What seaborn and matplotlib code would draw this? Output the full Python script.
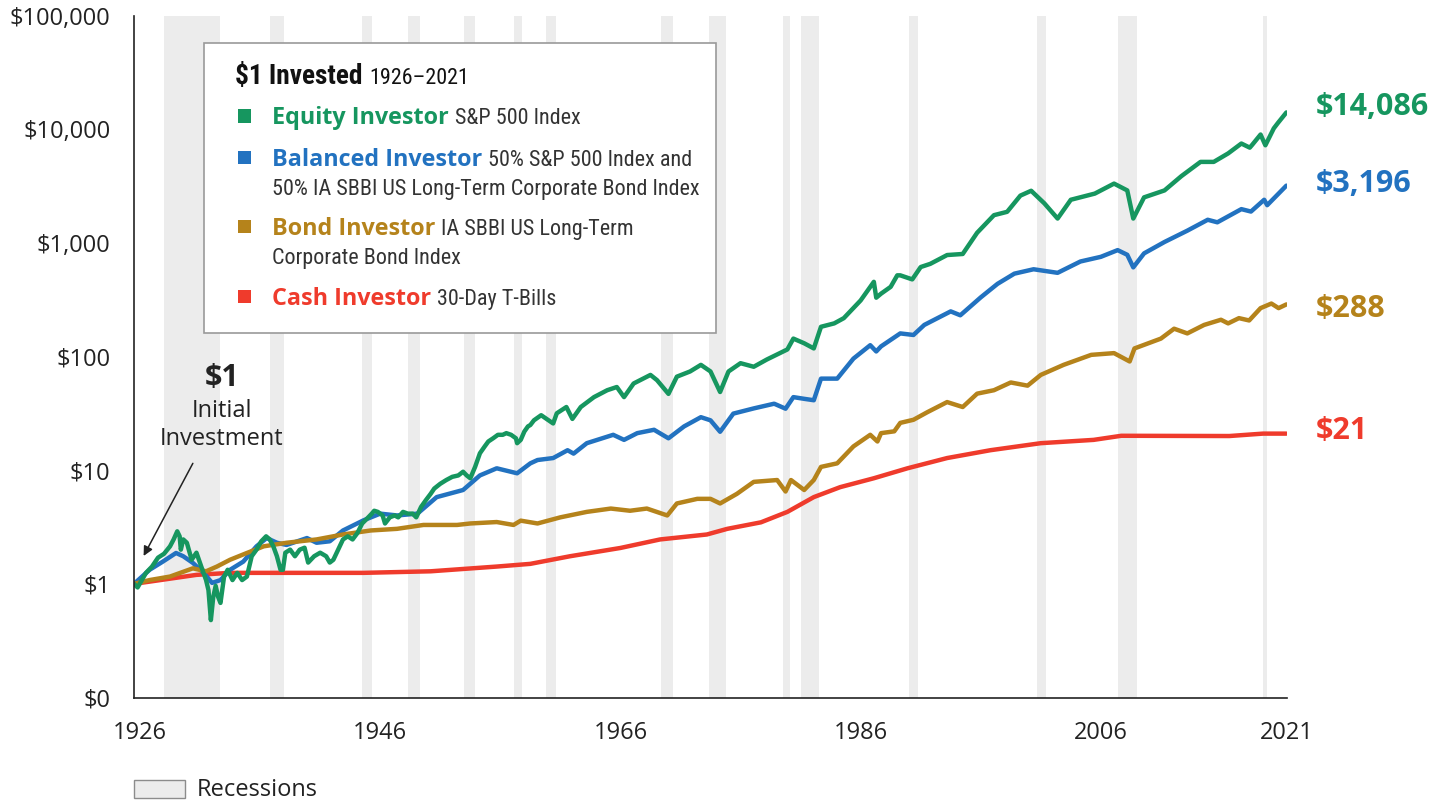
import numpy as np
import pandas as pd
import matplotlib
matplotlib.use('Agg')
import matplotlib.pyplot as plt
from matplotlib import font_manager as fm
from matplotlib.patches import Rectangle
from matplotlib.ticker import NullLocator
import seaborn as sns

# growth of $1 (year, dollars)
equity_years = [1926.0, 1926.3, 1927.0, 1927.5, 1928.0, 1928.5, 1929.0, 1929.3, 1929.6, 1929.8,
                1929.9, 1930.1, 1930.4, 1930.8, 1931.2, 1931.6, 1932.0, 1932.2, 1932.4, 1932.6,
                1932.8, 1933.0, 1933.2, 1933.5, 1933.8, 1934.2, 1934.6, 1935.0, 1935.4, 1935.8,
                1936.2, 1936.6, 1937.0, 1937.3, 1937.6, 1937.9, 1938.2, 1938.4, 1938.6, 1939.0,
                1939.4, 1939.8, 1940.2, 1940.5, 1941.0, 1941.5, 1942.0, 1942.3, 1942.6, 1943.0,
                1943.4, 1943.8, 1944.2, 1944.6, 1945.0, 1945.4, 1945.8, 1946.0, 1946.3, 1946.7,
                1946.9, 1947.3, 1947.7, 1948.0, 1948.4, 1948.8, 1949.2, 1949.5, 1949.9, 1950.3,
                1950.7, 1951.0, 1951.5, 1952.0, 1952.5, 1953.0, 1953.4, 1953.7, 1954.0, 1954.4,
                1954.8, 1955.2, 1955.5, 1955.9, 1956.3, 1956.7, 1957.0, 1957.4, 1957.8, 1957.9,
                1958.2, 1958.5, 1958.8, 1959.0, 1959.3, 1959.9, 1960.9, 1961.2, 1962.0, 1962.5,
                1963.2, 1964.3, 1965.4, 1966.2, 1966.8, 1967.6, 1969.0, 1969.55, 1970.5, 1971.2,
                1972.3, 1973.2, 1974.0, 1974.8, 1975.5, 1976.5, 1977.6, 1978.7, 1980.4, 1980.9,
                1981.8, 1982.6, 1983.2, 1984.3, 1985.1, 1986.5, 1987.6, 1987.8, 1988.2, 1989.0,
                1989.55, 1989.8, 1990.8, 1991.5, 1992.3, 1993.7, 1995.0, 1996.2, 1997.6, 1998.7,
                1999.8, 2000.7, 2001.8, 2002.9, 2004.0, 2006.0, 2007.6, 2008.7, 2009.2, 2010.1,
                2011.8, 2013.2, 2014.8, 2015.9, 2017.1, 2018.2, 2018.9, 2019.1, 2019.8, 2020.2,
                2020.9, 2021.25, 2021.95]
equity_values = [1.00, 0.93, 1.25, 1.42, 1.70, 1.84, 2.14, 2.46, 2.90, 2.62,
                 2.00, 2.46, 2.30, 1.63, 1.88, 1.42, 1.08, 0.88, 0.48, 0.77,
                 0.96, 0.77, 0.68, 1.16, 1.33, 1.08, 1.25, 1.08, 1.16, 1.75,
                 2.00, 2.37, 2.62, 2.46, 2.14, 1.75, 1.33, 1.33, 1.88, 2.00,
                 1.75, 2.00, 2.08, 1.54, 1.75, 1.88, 1.75, 1.54, 1.63, 2.00,
                 2.46, 2.62, 2.46, 2.80, 3.40, 3.75, 4.15, 4.40, 4.30, 4.00,
                 3.40, 3.85, 4.00, 3.85, 4.30, 4.15, 4.15, 3.85, 4.75, 5.45,
                 6.2, 6.9, 7.6, 8.2, 8.75, 9.0, 9.7, 9.0, 8.5, 10.7,
                 14.1, 16.2, 17.9, 19.1, 20.5, 20.5, 21.2, 20.5, 19.1, 17.3,
                 18.5, 21.9, 24.3, 25.0, 27.5, 30.5, 25.8, 31.7, 36.0, 28.3,
                 36.0, 44.0, 50.6, 54.0, 44.0, 58.0, 69.0, 62.0, 47.0, 66.6,
                 74.0, 84.6, 74.0, 48.8, 74.0, 87.5, 81.4, 94.4, 115.6, 144.0,
                 131.0, 118.0, 183.0, 196.0, 218.0, 312.0, 455.0, 330.0, 358.0, 411.0,
                 519.0, 519.0, 478.0, 614.0, 655.0, 783.0, 800.0, 1230.0, 1756.0, 1880.0,
                 2610.0, 2880.0, 2230.0, 1640.0, 2400.0, 2720.0, 3330.0, 2900.0, 1640.0, 2520.0,
                 2900.0, 3870.0, 5170.0, 5170.0, 6140.0, 7500.0, 6900.0, 7300.0, 9000.0, 7240.0,
                 10200.0, 11400.0, 14086.0]

balanced_years = [1926.0, 1927.3, 1928.4, 1929.5, 1930.1, 1930.9, 1931.8, 1932.5, 1933.2, 1934.0,
                  1935.1, 1936.2, 1937.05, 1937.9, 1938.7, 1940.4, 1941.2, 1942.3, 1943.4, 1945.1,
                  1946.5, 1947.9, 1949.6, 1951.2, 1953.4, 1954.8, 1956.2, 1957.9, 1959.0, 1959.6,
                  1960.9, 1962.1, 1962.6, 1963.7, 1965.9, 1966.8, 1967.9, 1969.3, 1970.5, 1971.8,
                  1973.2, 1974.0, 1974.8, 1975.9, 1977.6, 1979.3, 1980.25, 1980.9, 1981.8, 1982.6,
                  1983.2, 1984.55, 1985.9, 1987.3, 1987.8, 1988.2, 1989.8, 1990.9, 1991.8, 1994.0,
                  1994.8, 1996.5, 1997.9, 1999.3, 2000.9, 2002.9, 2004.8, 2006.5, 2007.9, 2008.7,
                  2009.2, 2010.1, 2011.8, 2013.7, 2015.4, 2016.2, 2018.2, 2019.0, 2020.1, 2020.35,
                  2021.95]
balanced_values = [1.00, 1.33, 1.57, 1.87, 1.75, 1.53, 1.25, 1.02, 1.08, 1.33,
                   1.57, 2.14, 2.53, 2.30, 2.20, 2.53, 2.30, 2.37, 2.95, 3.62,
                   4.15, 4.00, 4.15, 5.8, 6.7, 9.0, 10.4, 9.4, 11.5, 12.3,
                   12.8, 15.0, 14.0, 17.3, 20.5, 18.5, 21.2, 22.7, 19.1, 24.3,
                   29.3, 27.5, 21.8, 31.5, 35.0, 38.5, 34.8, 44.0, 42.5, 41.3,
                   64.0, 64.0, 96.0, 126.0, 111.0, 123.0, 160.0, 155.0, 190.0, 250.0,
                   231.0, 332.0, 437.0, 537.0, 587.0, 546.0, 687.0, 755.0, 865.0, 787.0,
                   610.0, 810.0, 1020.0, 1283.0, 1600.0, 1520.0, 1985.0, 1890.0, 2400.0, 2150.0,
                   3196.0]

bond_years = [1926.0, 1927.3, 1929.0, 1930.9, 1932.0, 1932.9, 1934.0, 1935.4, 1936.8, 1938.7,
              1941.2, 1943.4, 1945.7, 1947.9, 1950.1, 1952.9, 1954.0, 1956.2, 1957.6, 1958.2,
              1959.6, 1961.5, 1963.7, 1965.7, 1967.3, 1968.7, 1970.4, 1971.2, 1972.9, 1974.0,
              1974.8, 1976.2, 1977.6, 1979.55, 1980.25, 1980.7, 1981.8, 1982.6, 1983.2, 1984.55,
              1985.9, 1987.3, 1987.9, 1988.2, 1989.3, 1989.8, 1990.9, 1992.05, 1993.7, 1995.0,
              1996.2, 1997.6, 1999.0, 2000.4, 2001.5, 2003.4, 2005.7, 2007.6, 2008.9, 2009.3,
              2011.5, 2012.6, 2013.7, 2015.1, 2016.5, 2017.1, 2018.0, 2018.85, 2019.8, 2020.7,
              2021.3, 2021.95]
bond_values = [1.00, 1.08, 1.16, 1.37, 1.29, 1.42, 1.63, 1.87, 2.14, 2.30,
               2.46, 2.72, 2.95, 3.05, 3.30, 3.30, 3.40, 3.50, 3.30, 3.60,
               3.40, 3.85, 4.30, 4.60, 4.40, 4.60, 4.00, 5.10, 5.60, 5.60,
               5.10, 6.20, 7.90, 8.20, 6.50, 8.20, 6.70, 8.20, 10.7, 11.5,
               16.2, 20.5, 17.9, 21.2, 22.0, 26.1, 27.8, 32.4, 39.8, 36.0,
               47.2, 50.6, 59.2, 55.5, 69.0, 84.6, 103.6, 107.3, 90.6, 118.0,
               144.0, 176.0, 160.0, 190.0, 211.0, 196.0, 218.0, 208.0, 267.0, 293.0,
               267.0, 288.0]

cash_years = [1926.0, 1931.2, 1934.0, 1945.1, 1950.7, 1956.2, 1959.0, 1962.3, 1966.5, 1969.8,
              1973.7, 1975.4, 1978.2, 1980.4, 1982.6, 1984.8, 1987.6, 1990.4, 1993.7, 1997.3,
              2001.5, 2005.9, 2008.2, 2017.2, 2020.0, 2021.95]
cash_values = [1.00, 1.20, 1.25, 1.25, 1.29, 1.42, 1.50, 1.75, 2.07, 2.46,
               2.72, 3.05, 3.48, 4.30, 5.80, 7.10, 8.50, 10.4, 12.8, 15.0,
               17.3, 18.5, 20.1, 20.0, 21.0, 21.0]

recessions = [(1928.5, 1933.2), (1937.3, 1938.5), (1945.0, 1945.8), (1948.8, 1949.8),
              (1953.5, 1954.4), (1957.6, 1958.3), (1960.3, 1961.1), (1969.9, 1970.9),
              (1973.9, 1975.3), (1980.0, 1980.6), (1981.5, 1983.0), (1990.5, 1991.3),
              (2001.2, 2001.9), (2007.9, 2009.5), (2020.0, 2020.3)]

tick_years = [1926, 1946, 1966, 1986, 2006, 2021]
dollar_ticks = [0.1, 1, 10, 100, 1000, 10000, 100000]
dollar_labels = ['$0', '$1', '$10', '$100', '$1,000', '$10,000', '$100,000']

names = ['Cash Investor', 'Balanced Investor', 'Bond Investor', 'Equity Investor']
colors = {'Equity Investor': '#16965f', 'Balanced Investor': '#2272c0',
          'Bond Investor': '#b5831b', 'Cash Investor': '#ef3b2c'}
end_labels = {'Equity Investor': '$14,086', 'Balanced Investor': '$3,196',
              'Bond Investor': '$288', 'Cash Investor': '$21'}
legend_rows = [('Equity Investor', 'S&P 500 Index', None),
               ('Balanced Investor', '50% S&P 500 Index and',
                '50% IA SBBI US Long-Term Corporate Bond Index'),
               ('Bond Investor', 'IA SBBI US Long-Term', 'Corporate Bond Index'),
               ('Cash Investor', '30-Day T-Bills', None)]

series = {'Equity Investor': (equity_years, equity_values),
          'Balanced Investor': (balanced_years, balanced_values),
          'Bond Investor': (bond_years, bond_values),
          'Cash Investor': (cash_years, cash_values)}
df = pd.concat([pd.DataFrame({'year': yrs, 'value': vals, 'investor': name})
                for name, (yrs, vals) in series.items()], ignore_index=True)


def have_font(fam):
    try:
        fm.findfont(fm.FontProperties(family=fam), fallback_to_default=False)
        return True
    except ValueError:
        return False


sns.set_theme(style='white')
plt.rcParams['font.family'] = ['Open Sans', 'DejaVu Sans']
plt.rcParams['text.parse_math'] = False

# condensed face for the legend descriptions; shrink a wide face if none exists
narrow, squeeze = ['Roboto', 'DejaVu Sans'], 0.82
for fam in ['Roboto Condensed', 'Liberation Sans Narrow', 'DejaVu Sans Condensed']:
    if have_font(fam):
        narrow, squeeze = [fam, 'DejaVu Sans'], 0.94
        break
dark = '#222222'

W, H = 1451, 801
fig = plt.figure(figsize=(W / 100, H / 100), dpi=100)
ax = fig.add_axes([134 / W, 1 - 697.5 / H, 1153 / W, 681.8 / H])

for start, end in recessions:
    ax.axvspan(start, end, color='#ececec', lw=0, zorder=0)

sns.lineplot(data=df, x='year', y='value', hue='investor', hue_order=names,
             palette=colors, linewidth=3.2, legend=False, estimator=None, ax=ax,
             solid_joinstyle='round', solid_capstyle='round')

ax.set_yscale('log')
ax.set_ylim(0.1, 1e5)
ax.set_xlim(1926, 2022)
ax.yaxis.set_minor_locator(NullLocator())
ax.set_yticks(dollar_ticks)
ax.set_yticklabels(dollar_labels)
ax.set_xticks([y + 0.5 for y in tick_years[:-1]] + [tick_years[-1] + 1])
ax.set_xticklabels([str(y) for y in tick_years])
ax.tick_params(length=0, pad=17, labelsize=17, colors=dark)
ax.set_xlabel('')
ax.set_ylabel('')
for side in ['top', 'right']:
    ax.spines[side].set_visible(False)
for side in ['left', 'bottom']:
    ax.spines[side].set_color(dark)
    ax.spines[side].set_linewidth(1.2)
ax.set_facecolor('white')

# end-of-period values, nudged (in points) to sit beside the line ends
nudge = {'Equity Investor': 4, 'Balanced Investor': 1, 'Bond Investor': -3, 'Cash Investor': 2}
for name in names:
    yrs, vals = series[name]
    ax.annotate(end_labels[name], xy=(2024.4, vals[-1]), xytext=(0, nudge[name]),
                textcoords='offset points', color=colors[name], fontsize=22,
                fontweight='bold', va='center', ha='left', annotation_clip=False)

# $1 initial investment callout
ax.text(1933.3, 65, '$1', fontsize=22, fontweight='bold', color=dark, ha='center', va='center')
ax.text(1933.3, 33, 'Initial', fontsize=17, color=dark, ha='center', va='center')
ax.text(1933.3, 18.8, 'Investment', fontsize=17, color=dark, ha='center', va='center')
ax.annotate('', xy=(1926.8, 1.76), xytext=(1930.9, 11.5),
            arrowprops=dict(arrowstyle='-|>', color=dark, lw=1.1, mutation_scale=14,
                            shrinkA=0, shrinkB=0))

# legend box
fig.add_artist(Rectangle((204 / W, 1 - 333 / H), 512 / W, 290 / H, transform=fig.transFigure,
                         facecolor='white', edgecolor='#9a9a9a', lw=1.2, zorder=5))
renderer = fig.canvas.get_renderer()


def after(t, text, gap, **kw):
    bb = t.get_window_extent(renderer)
    x0, y0 = t.get_position()
    return fig.text(bb.x1 / W + gap / W, y0, text, va='baseline', zorder=6, **kw)


title = fig.text(235 / W, 1 - 84 / H, '$1 Invested', family=narrow, fontsize=21 * squeeze,
                 fontweight='bold', color='#111111', va='baseline', zorder=6)
after(title, '1926\u20132021', 7, family=narrow, fontsize=17 * squeeze, color='#111111')

baselines = [(124, 116), (166, 157.5), (235, 226.7), (305, 296.7)]
for (name, desc, second), (base, sq) in zip(legend_rows, baselines):
    fig.add_artist(Rectangle((237.5 / W, 1 - (sq + 6.5) / H), 13 / W, 13 / H,
                             transform=fig.transFigure, facecolor=colors[name], lw=0, zorder=6))
    t = fig.text(272 / W, 1 - base / H, name, fontsize=16.8, fontweight='bold',
                 color=colors[name], va='baseline', zorder=6)
    after(t, desc, 6, family=narrow, fontsize=17 * squeeze, color='#333333')
    if second:
        fig.text(272 / W, 1 - (base + 29) / H, second, family=narrow, fontsize=17 * squeeze,
                 color='#333333', va='baseline', zorder=6)

# recessions key
fig.add_artist(Rectangle((134 / W, 1 - 798 / H), 51 / W, 18 / H, transform=fig.transFigure,
                         facecolor='#ececec', edgecolor='#8c8c8c', lw=1))
fig.text(197 / W, 1 - 790 / H, 'Recessions', fontsize=17, color=dark, va='center')

fig.savefig('out.png', dpi=100, facecolor='white')
